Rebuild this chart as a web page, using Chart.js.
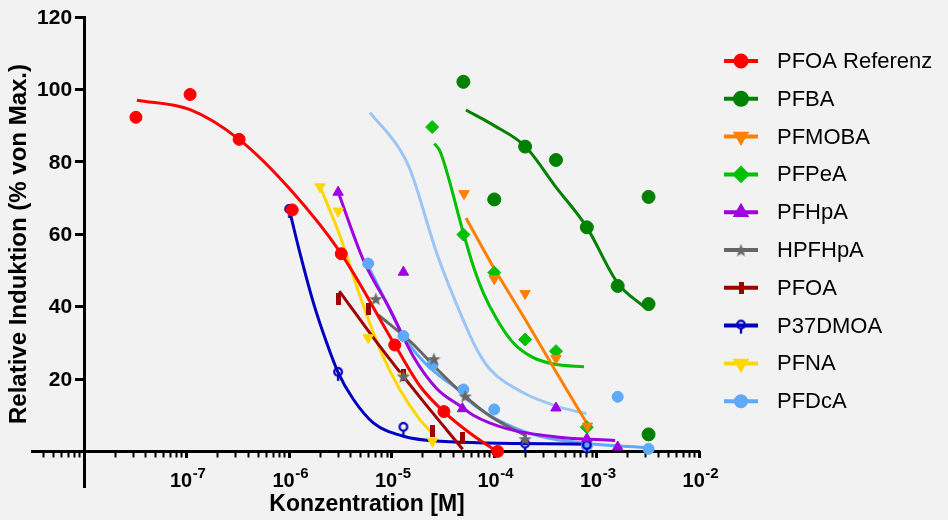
<!DOCTYPE html>
<html>
<head>
<meta charset="utf-8">
<script src="https://cdn.jsdelivr.net/npm/chart.js@4.4.1/dist/chart.umd.min.js"></script>
<style>
  html, body { margin: 0; padding: 0; background: #f2f2f2; }
  canvas { display: block; }
</style>
</head>
<body>
<canvas id="chart" width="948" height="520"></canvas>
<script>
// Dose-response data: concentration in M, response in % of max.

const refX = [3.2e-8, 1.08e-7, 3.25e-7, 1.07e-6, 3.22e-6, 1.07e-5, 3.23e-5, 1.08e-4];
const refY = [92.3, 98.6, 86.2, 66.7, 54.6, 29.4, 11.0, 0];
const refFitX = [3.27e-8, 1.08e-7, 3.24e-7, 1.02e-6, 3.2e-6, 1.08e-5, 1.89e-5, 3.24e-5, 5.81e-5, 1.06e-4];
const refFitY = [97.0, 94.4, 86.2, 72.4, 54.7, 29.3, 18.0, 10.9, 5.0, 0];

const pfbaX = [5.0e-5, 1.0e-4, 2.0e-4, 4.0e-4, 8.0e-4, 1.6e-3, 3.2e-3, 3.2e-3, 3.2e-3];
const pfbaY = [102.1, 69.6, 84.2, 80.5, 61.9, 45.7, 70.3, 40.7, 4.7];
const pfbaFitX = [5.3e-5, 1.0e-4, 2.0e-4, 4.0e-4, 8.0e-4, 1.6e-3, 2.9e-3];
const pfbaFitY = [94.3, 90.0, 84.3, 73.0, 61.9, 46.5, 39.9];

const pfmobaX = [5.07e-5, 1.0e-4, 2.0e-4, 4.0e-4, 8.1e-4];
const pfmobaY = [71.2, 47.7, 43.6, 25.7, 7.0];
const pfmobaFitX = [5.3e-5, 1.0e-4, 2.0e-4, 4.0e-4, 8.1e-4];
const pfmobaFitY = [64.5, 50.5, 36.5, 22.0, 7.5];

const pfpeaX = [2.48e-5, 5.0e-5, 1.0e-4, 2.0e-4, 4.0e-4, 8.0e-4];
const pfpeaY = [89.6, 59.9, 49.4, 30.9, 27.7, 6.7];
const pfpeaFitX = [2.6e-5, 2.96e-5, 4.99e-5, 6.24e-5, 7.82e-5, 1.06e-4, 1.53e-4, 2.4e-4, 4.06e-4, 7.5e-4];
const pfpeaFitY = [85.0, 82.9, 60.4, 51.2, 43.8, 36.5, 30.0, 25.9, 24.0, 23.4];

const pfhpaX = [3.0e-6, 1.3e-5, 4.9e-5, 4.0e-4, 8.0e-4, 1.6e-3];
const pfhpaY = [71.6, 49.5, 11.8, 12.0, 3.5, 1.2];
const pfhpaFitX = [3.01e-6, 5.27e-6, 9.62e-6, 1.62e-5, 2.74e-5, 4.92e-5, 6.24e-5, 1.32e-4, 4.06e-4, 1.51e-3];
const pfhpaFitY = [71.6, 53.0, 39.2, 26.3, 17.4, 12.1, 10.0, 6.3, 4.0, 3.0];

const hpfhpaX = [7.0e-6, 1.3e-5, 2.58e-5, 5.2e-5, 2.0e-4];
const hpfhpaY = [42.2, 20.8, 25.6, 15.3, 3.5];
const hpfhpaFitX = [7.4e-6, 1.62e-5, 2.58e-5, 5.18e-5, 9.08e-5, 2.07e-4];
const hpfhpaFitY = [37.7, 29.6, 23.6, 15.3, 9.8, 4.2];

const pfoaX = [3.0e-6, 6.0e-6, 1.3e-5, 2.5e-5, 4.9e-5];
const pfoaY = [42.0, 39.2, 21.0, 5.6, 3.8];
const pfoaFitX = [3.08e-6, 7.67e-6, 1.88e-5, 4.92e-5];
const pfoaFitY = [44.3, 29.0, 15.0, 0.6];

const p37X = [1.0e-6, 3.0e-6, 1.3e-5, 2.0e-4, 8.0e-4];
const p37Y = [66.7, 21.7, 6.5, 1.9, 1.5];
const p37FitX = [1.02e-6, 1.27e-6, 1.72e-6, 2.32e-6, 3.01e-6, 4.22e-6, 6.61e-6, 1.3e-5, 2.96e-5, 8.0e-4];
const p37FitY = [65.9, 54.9, 41.1, 30.0, 21.7, 14.4, 7.9, 4.2, 2.8, 2.0];

const pfnaX = [2.0e-6, 3.0e-6, 5.9e-6, 1.3e-5, 2.5e-5];
const pfnaY = [73.1, 66.4, 31.4, 20.8, 2.8];
const pfnaFitX = [1.96e-6, 3.13e-6, 4.9e-6, 7.67e-6, 1.2e-5, 1.88e-5, 2.45e-5];
const pfnaFitY = [73.8, 59.5, 42.9, 28.2, 17.1, 8.8, 5.2];

const pfdcaX = [5.9e-6, 1.3e-5, 2.5e-5, 5.0e-5, 1.0e-4, 8.0e-4, 1.6e-3, 3.2e-3];
const pfdcaY = [51.9, 31.9, 24.0, 17.1, 11.6, 1.5, 15.1, 0.7];
const pfdcaFitX = [5.9e-6, 8.26e-6, 1.3e-5, 2.03e-5, 2.95e-5, 4.63e-5, 6.24e-5, 1.32e-4, 2.79e-4, 8.0e-4, 3.2e-3];
const pfdcaFitY = [51.2, 42.9, 31.9, 24.9, 20.8, 16.7, 13.0, 7.5, 4.2, 2.2, 1.0];

// second, paler curve without points
const paleFitX = [6.14e-6, 1.2e-5, 1.51e-5, 2.74e-5, 3.98e-5, 6.75e-5, 9.08e-5, 1.92e-4, 4.06e-4, 7.94e-4];
const paleFitY = [93.6, 83.4, 77.9, 54.9, 42.9, 28.2, 22.7, 16.2, 12.5, 10.4];

// axis ticks
const yTicks = [20, 40, 60, 80, 100, 120];
const xDecades = [1e-8, 1e-7, 1e-6, 1e-5, 1e-4, 1e-3, 1e-2];
const xLabelExps = [-7, -6, -5, -4, -3, -2];
const minorFactors = [2, 3, 4, 5, 6, 7, 8, 9];
const minorDecades = [1e-9, 1e-8, 1e-7, 1e-6, 1e-5, 1e-4, 1e-3];

const X_MIN = 3.1e-9, X_MAX = 1e-2;
const FONT = "'Liberation Sans', Arial, sans-serif";

function makeMarker(w, h, draw) {
    const c = document.createElement("canvas");
    c.width = w;
    c.height = h;
    draw(c.getContext("2d"), w, h);
    return c;
}

const starMarker = makeMarker(15, 15, function(g, w, h) {
    g.fillStyle = "#666666";
    g.beginPath();
    for (let i = 0; i < 10; i++) {
        const r = i % 2 ? 2.9 : 7;
        const a = -Math.PI / 2 + i * Math.PI / 5;
        g.lineTo(w / 2 + r * Math.cos(a), h / 2 + 0.8 + r * Math.sin(a));
    }
    g.closePath();
    g.fill();
});

const barMarker = makeMarker(5, 12, function(g, w, h) {
    g.fillStyle = "#a00000";
    g.fillRect(0, 0, w, h);
});

const lollipopMarker = makeMarker(12, 26, function(g, w, h) {
    g.strokeStyle = "#0000c0";
    g.lineWidth = 2.3;
    g.beginPath();
    g.arc(6, 12, 3.8, 0, Math.PI * 2);
    g.stroke();
    g.beginPath();
    g.moveTo(6, 15.5);
    g.lineTo(6, 21);
    g.stroke();
});

function pts(xs, ys) {
    return xs.map((x, i) => ({ x: x, y: ys[i] }));
}

// each series: name, color, marker options, points, fitted curve
const series = [
    { name: "PFOA Referenz", color: "#ff0000", style: "circle", radius: 6, rot: 0, x: refX, y: refY, fx: refFitX, fy: refFitY },
    { name: "PFBA", color: "#008000", style: "circle", radius: 6.5, rot: 0, x: pfbaX, y: pfbaY, fx: pfbaFitX, fy: pfbaFitY },
    { name: "PFMOBA", color: "#ff8000", style: "triangle", radius: 6, rot: 180, x: pfmobaX, y: pfmobaY, fx: pfmobaFitX, fy: pfmobaFitY },
    { name: "PFPeA", color: "#00c000", style: "rectRot", radius: 6.5, rot: 0, x: pfpeaX, y: pfpeaY, fx: pfpeaFitX, fy: pfpeaFitY },
    { name: "PFHpA", color: "#a000e0", style: "triangle", radius: 6, rot: 0, x: pfhpaX, y: pfhpaY, fx: pfhpaFitX, fy: pfhpaFitY },
    { name: "HPFHpA", color: "#666666", style: starMarker, radius: 7, rot: 0, x: hpfhpaX, y: hpfhpaY, fx: hpfhpaFitX, fy: hpfhpaFitY },
    { name: "PFOA", color: "#a00000", style: barMarker, radius: 6, rot: 0, x: pfoaX, y: pfoaY, fx: pfoaFitX, fy: pfoaFitY },
    { name: "P37DMOA", color: "#0000c0", style: lollipopMarker, radius: 6, rot: 0, x: p37X, y: p37Y, fx: p37FitX, fy: p37FitY },
    { name: "PFNA", color: "#ffd700", style: "triangle", radius: 6, rot: 180, x: pfnaX, y: pfnaY, fx: pfnaFitX, fy: pfnaFitY },
    { name: "PFDcA", color: "#5eaaf8", style: "circle", radius: 5.5, rot: 0, x: pfdcaX, y: pfdcaY, fx: pfdcaFitX, fy: pfdcaFitY }
];

const datasets = [];
series.forEach(function(s) {
    datasets.push({
        label: s.name,
        data: pts(s.x, s.y),
        showLine: false,
        pointStyle: s.style,
        pointRadius: s.radius,
        pointRotation: s.rot,
        pointBackgroundColor: s.color,
        pointBorderColor: s.color,
        pointBorderWidth: 1,
        order: 0
    });
    datasets.push({
        label: s.name + " fit",
        data: pts(s.fx, s.fy),
        showLine: true,
        borderColor: s.color,
        borderWidth: 3,
        pointRadius: 0,
        cubicInterpolationMode: "monotone",
        order: 1
    });
});
datasets.push({
    label: "PFDcA fit 2",
    data: pts(paleFitX, paleFitY),
    showLine: true,
    borderColor: "#9cc6f5",
    borderWidth: 3,
    pointRadius: 0,
    cubicInterpolationMode: "monotone",
    order: 2
});

// tick labels, axis titles and the legend
const decorPlugin = {
    id: "decor",
    afterDraw: function(chart) {
        const ctx = chart.ctx;
        const xs = chart.scales.x;
        const ys = chart.scales.y;
        const axisX = xs.getPixelForValue(1e-8);
        ctx.save();
        ctx.fillStyle = "#000";

        // y tick labels, right of them the axis ticks
        ctx.font = "bold 21px " + FONT;
        ctx.textAlign = "right";
        ctx.textBaseline = "middle";
        yTicks.forEach(function(v) {
            ctx.fillText(String(v), axisX - 12, ys.getPixelForValue(v) + 1);
        });

        // x tick labels with superscript exponent
        ctx.textBaseline = "alphabetic";
        xLabelExps.forEach(function(e) {
            const px = xs.getPixelForValue(Math.pow(10, e));
            ctx.font = "bold 20px " + FONT;
            const wBase = ctx.measureText("10").width;
            ctx.font = "bold 15px " + FONT;
            const wExp = ctx.measureText(String(e)).width;
            const left = px - (wBase + wExp) / 2 + 1;
            ctx.font = "bold 20px " + FONT;
            ctx.textAlign = "left";
            ctx.fillText("10", left, 487);
            ctx.font = "bold 15px " + FONT;
            ctx.fillText(String(e), left + wBase + 0.5, 478);
        });

        // axis titles
        ctx.font = "bold 23px " + FONT;
        ctx.textAlign = "center";
        ctx.textBaseline = "middle";
        ctx.fillText("Konzentration [M]", 367, 505);
        ctx.save();
        ctx.translate(19, 244);
        ctx.rotate(-Math.PI / 2);
        ctx.font = "bold 24px " + FONT;
        ctx.fillText("Relative Induktion (% von Max.)", 0, 0);
        ctx.restore();

        // legend: line with marker, then name
        ctx.font = "22px " + FONT;
        ctx.textAlign = "left";
        series.forEach(function(s, i) {
            const y = 61 + i * 37.8;
            ctx.strokeStyle = s.color;
            ctx.lineWidth = 4;
            ctx.beginPath();
            ctx.moveTo(724, y);
            ctx.lineTo(758, y);
            ctx.stroke();
            ctx.fillStyle = s.color;
            Chart.helpers.drawPoint(ctx, {
                pointStyle: s.style,
                radius: s.radius - 0.5,
                rotation: s.rot,
                borderWidth: 1
            }, 741, y);
            ctx.fillStyle = "#000";
            ctx.fillText(s.name, 777, y + 1);
        });
        ctx.restore();
    }
};

new Chart(document.getElementById("chart"), {
    type: "scatter",
    data: { datasets: datasets },
    options: {
        responsive: false,
        animation: false,
        layout: { padding: { left: 32, top: 17, right: 248.7, bottom: 32.4 } },
        plugins: {
            legend: { display: false },
            tooltip: { enabled: false }
        },
        scales: {
            x: {
                type: "logarithmic",
                min: X_MIN,
                max: X_MAX,
                position: { y: 0 },
                afterBuildTicks: function(scale) {
                    const t = [];
                    minorDecades.forEach(function(d) {
                        minorFactors.forEach(function(f) {
                            const v = f * d;
                            if (v >= X_MIN && v <= X_MAX) t.push({ value: v });
                        });
                    });
                    scale.ticks = t;
                },
                ticks: { display: false },
                grid: { drawOnChartArea: false, tickLength: 4.5, tickWidth: 2, tickColor: "#000" },
                border: { color: "#000", width: 3 }
            },
            x2: {
                type: "logarithmic",
                axis: "x",
                min: X_MIN,
                max: X_MAX,
                position: { y: 0 },
                afterBuildTicks: function(scale) {
                    scale.ticks = xDecades.map(v => ({ value: v }));
                },
                ticks: { display: false },
                grid: { drawOnChartArea: false, tickLength: 7, tickWidth: 3, tickColor: "#000" },
                border: { display: false }
            },
            y: {
                type: "linear",
                min: -10,
                max: 120,
                position: { x: 1e-8 },
                afterBuildTicks: function(scale) {
                    scale.ticks = yTicks.map(v => ({ value: v }));
                },
                ticks: { display: false },
                grid: { drawOnChartArea: false, tickLength: 8, tickWidth: 3, tickColor: "#000" },
                border: { color: "#000", width: 3 }
            }
        }
    },
    plugins: [decorPlugin]
});
</script>
</body>
</html>
